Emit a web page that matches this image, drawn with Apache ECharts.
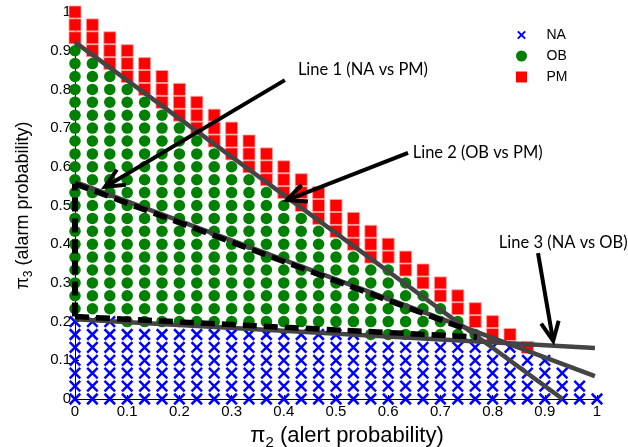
<!DOCTYPE html>
<html><head><meta charset="utf-8">
<script src="https://cdn.jsdelivr.net/npm/echarts@6/dist/echarts.min.js"></script>
<style>html,body{margin:0;padding:0;background:#fff}#c{width:628px;height:447px}</style>
</head><body><div id="c"></div>
<script>
// grid of probability points: pi2 = i/30, pi3 = j/30, i + j <= 30
const gridSteps = 30;
// per column i (pi2 = i/30): number of points of each class, from the bottom up
const naCount = [7,7,7,6,6,6,6,6,6,6,6,6,6,6,6,6,6,5,5,5,5,5,5,5,5,5,4,4,3,2,1];
const obCount = [21,20,19,19,18,17,16,15,14,13,12,11,10,9,8,7,6,6,6,5,4,3,2,1,0,0,0,0,0,0,0];
const pmCount = [3,3,3,3,3,3,3,3,3,3,3,3,3,3,3,3,3,3,2,2,2,2,2,2,2,1,1,0,0,0,0];
const tickLabels = ['0','0.1','0.2','0.3','0.4','0.5','0.6','0.7','0.8','0.9','1'];
const seriesNames = ['NA','OB','PM'];
// decision lines (pi2, pi3 end points)
const line1 = [[0,0.922],[0.934,0]];
const line2 = [[0,0.561],[0.996,0.059]];
const line3 = [[0,0.206],[0.996,0.132]];
const dashV = [[0,0.213],[0,0.556]];
const dash2 = [[0,0.556],[0.753,0.178]];
const dash3 = [[0,0.213],[0.77,0.16]];
// annotations
const noteTexts = ['Line 1 (NA vs PM)','Line 2 (OB vs PM)','Line 3 (NA vs OB)'];
const notePos = [[0.427,0.850],[0.647,0.637],[0.812,0.403]];
const arrowTails = [[0.402,0.824],[0.638,0.636],[0.887,0.377]];
const arrowTips = [[0.0575,0.548],[0.406,0.514],[0.916,0.150]];

const step = 1 / gridSteps;
const naData = [], obData = [], pmData = [];
for (let i = 0; i <= gridSteps; i++) {
  let j = 0;
  for (let k = 0; k < naCount[i]; k++, j++) naData.push([i*step, j*step]);
  for (let k = 0; k < obCount[i]; k++, j++) obData.push([i*step, j*step]);
  for (let k = 0; k < pmCount[i]; k++, j++) pmData.push([i*step, j*step]);
}

const crossPath = 'path://M0,0L10,10M10,0L0,10';
const crossIcon = 'path://M-2.5,-2.5M12.5,12.5M0,0L10,10M10,0L0,10';
const squareIcon = 'path://M0,0L10,0L10,10L0,10Z';
const FONT = 'Liberation Sans, Arial, sans-serif';

function lineSeries(pts, color, width, type) {
  return { type:'line', data: pts, symbol:'none', silent:true, clip:false, animation:false,
    lineStyle:{ color, width, type: type || 'solid', cap:'butt' }, z: 5 };
}
function nameRich(size, pad) {
  return { padding: pad || 0, rich:{ i:{fontSize:size, fontFamily:FONT, color:'#000'},
                  s:{fontSize:Math.round(size*0.68), fontFamily:FONT, color:'#000', verticalAlign:'bottom', padding:[Math.round(size*0.6),0,0,0]} } };
}

const chart = echarts.init(document.getElementById('c'), null, {renderer:'canvas'});
chart.setOption({
  animation:false,
  backgroundColor:'#fff',
  grid:{ left:75, right:31, top:12, bottom:48, containLabel:false, outerBoundsMode:'none' },
  legend:{
    orient:'vertical', left:510, top:23, itemWidth:40, itemHeight:11, itemGap:7,
    symbolKeepAspect:true,
    textStyle:{ fontSize:14, fontFamily:FONT, color:'#000', padding:[0,0,0,0] },
    data:[{name:'NA', icon: crossIcon},{name:'OB', icon:'circle'},
          {name:'PM', icon:squareIcon, itemStyle:{borderWidth:0}}],
    selectedMode:false
  },
  xAxis:{
    type:'value', min:0, max:1, interval:0.1,
    name:'{i|π}{s|2}{i| (alert probability)}', nameLocation:'middle', nameGap:23,
    nameTextStyle: nameRich(22, [0,0,0,22]),
    axisLine:{ lineStyle:{ color:'#000', width:1 } },
    axisTick:{ inside:true, length:4, lineStyle:{ color:'#000' } },
    splitLine:{ show:false },
    axisLabel:{ fontSize:15, fontFamily:FONT, color:'#000', margin:5,
      formatter:(v)=> tickLabels[Math.round(v*10)] }
  },
  yAxis:{
    type:'value', min:0, max:1, interval:0.1,
    name:'{i|π}{s|3}{i| (alarm probability)}', nameLocation:'middle', nameGap:40,
    nameTextStyle: nameRich(18),
    axisLine:{ show:true, lineStyle:{ color:'#000', width:1 } },
    axisTick:{ show:true, inside:true, length:4, lineStyle:{ color:'#000' } },
    splitLine:{ show:false },
    axisLabel:{ fontSize:15, fontFamily:FONT, color:'#000', margin:4,
      formatter:(v)=> tickLabels[Math.round(v*10)] }
  },
  series:[
    { name:'NA', type:'scatter', data:naData, symbol:crossPath, symbolSize:10.5, clip:false,
      itemStyle:{ color:'#0000ff', borderColor:'#0000ff', borderWidth:2.5, opacity:1 }, z:2 },
    { name:'OB', type:'scatter', data:obData, symbol:'circle', symbolSize:11.5, clip:false,
      itemStyle:{ color:'#008000', opacity:1 }, z:2 },
    { name:'PM', type:'scatter', data:pmData, symbol:'rect', symbolSize:12, clip:false,
      itemStyle:{ color:'#ff0000', borderColor:'#ffa0a0', borderWidth:0.8, opacity:1 }, z:2 },
    lineSeries(line1, '#444', 4.5),
    lineSeries(line2, '#444', 4.5),
    lineSeries(line3, '#444', 4.5),
    lineSeries(dashV, '#000', 6, [14,7]),
    lineSeries(dash2, '#000', 5.5, [14,7]),
    lineSeries(dash3, '#000', 5.5, [14,7]),
    { type:'custom', coordinateSystem:'cartesian2d', silent:true, z:8, clip:false,
      data: arrowTails.map((t,k)=>[t[0],t[1],arrowTips[k][0],arrowTips[k][1]]),
      encode:{ x:[0,2], y:[1,3] },
      renderItem:(params, api)=>{
        const t = api.coord([api.value(0), api.value(1)]);
        const h = api.coord([api.value(2), api.value(3)]);
        const ang = Math.atan2(t[1]-h[1], t[0]-h[0]);
        const L = 21, a = 25*Math.PI/180;
        const w1 = [h[0]+L*Math.cos(ang+a), h[1]+L*Math.sin(ang+a)];
        const w2 = [h[0]+L*Math.cos(ang-a), h[1]+L*Math.sin(ang-a)];
        return { type:'group', children:[
          { type:'line', shape:{x1:t[0],y1:t[1],x2:h[0],y2:h[1]}, style:{stroke:'#000', lineWidth:4, fill:null} },
          { type:'polyline', shape:{points:[w1,h,w2]}, style:{stroke:'#000', lineWidth:4, fill:null, lineJoin:'miter'} }
        ]};
      }
    },
    { type:'custom', coordinateSystem:'cartesian2d', silent:true, z:9, clip:false,
      data: notePos.map((p,k)=>[p[0],p[1],k]),
      encode:{ x:0, y:1 },
      renderItem:(params, api)=>{
        const p = api.coord([api.value(0), api.value(1)]);
        return { type:'text', x:p[0], y:p[1], style:{
          text: noteTexts[api.value(2)], fill:'#000', fontSize:16.5, fontFamily:'Lato, sans-serif',
          align:'left', verticalAlign:'middle', textAlign:'left', textVerticalAlign:'middle' } };
      }
    }
  ]
});
</script></body></html>
